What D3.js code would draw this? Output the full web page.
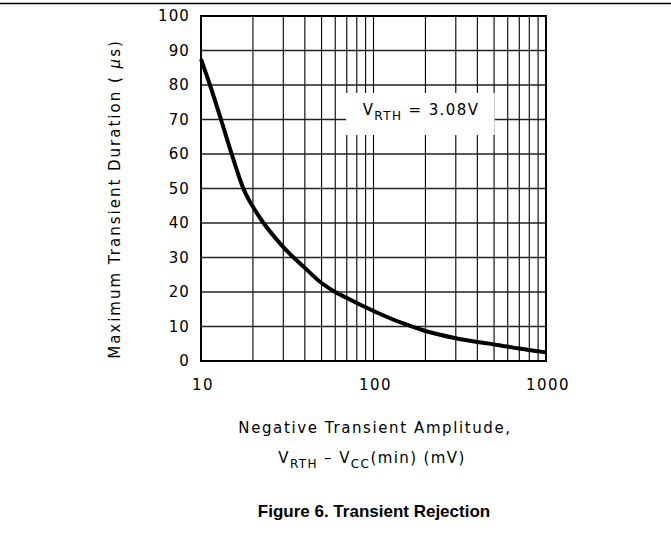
<!DOCTYPE html>
<html><head><meta charset="utf-8">
<script src="https://cdn.jsdelivr.net/npm/d3@7"></script>
<style>
html,body{margin:0;padding:0;background:#fff;}
text{font-family:"DejaVu Sans",sans-serif;fill:#000;}
</style></head>
<body><svg id="c" width="671" height="548"></svg>
<script>
// ---- data ----
const amplitudes = [10, 11.27, 13.06, 15.06, 17.6, 21, 30, 40, 50, 60, 70, 80, 100, 150, 200, 300, 400, 500, 700, 1000];
const durations  = [87.5, 80, 70, 60, 50, 43, 33, 27, 22.6, 20, 18.3, 16.8, 14.5, 10.8, 8.7, 6.6, 5.5, 4.8, 3.6, 2.5];
const xTickLabels = [10, 100, 1000];
const yTickLabels = [0, 10, 20, 30, 40, 50, 60, 70, 80, 90, 100];
const xGrid = [10,20,30,40,50,60,70,80,90,100,200,300,400,500,600,700,800,900,1000];
const annotationBox = {x0: 70, x1: 500, y0: 65.5, y1: 77.7};

const svg = d3.select("#c");
const L = 201, R = 546, T = 16, B = 361;
const x = d3.scaleLog().domain([10, 1000]).range([L, R]);
const y = d3.scaleLinear().domain([0, 100]).range([B, T]);

// page separator
svg.append("line").attr("x1",0).attr("x2",671).attr("y1",3.5).attr("y2",3.5)
  .attr("stroke","#000").attr("stroke-width",1.5);

// grid
const g = svg.append("g");
g.selectAll("line.v").data(xGrid).join("line")
  .attr("x1",d=>x(d)).attr("x2",d=>x(d)).attr("y1",T).attr("y2",B)
  .attr("stroke","#000").attr("stroke-width",1.1);
g.selectAll("line.h").data(yTickLabels).join("line")
  .attr("x1",L).attr("x2",R).attr("y1",d=>y(d)).attr("y2",d=>y(d))
  .attr("stroke","#222").attr("stroke-width",1.3);

// annotation white box
svg.append("rect")
  .attr("x", x(annotationBox.x0)-0.8).attr("width", x(annotationBox.x1)-x(annotationBox.x0)+1.4)
  .attr("y", y(annotationBox.y1)).attr("height", y(annotationBox.y0)-y(annotationBox.y1))
  .attr("fill","#fff");

// frame
svg.append("rect").attr("x",L).attr("y",T).attr("width",R-L).attr("height",B-T)
  .attr("fill","none").attr("stroke","#000").attr("stroke-width",2);

// curve
const line = d3.line().x((d,i)=>x(amplitudes[i])).y(d=>y(d)).curve(d3.curveMonotoneX);
svg.append("path").attr("d", line(durations)).attr("fill","none")
  .attr("stroke","#000").attr("stroke-width",4).attr("stroke-linecap","butt");

// y tick labels
svg.append("g").selectAll("text").data(yTickLabels).join("text")
  .attr("x",190).attr("y",d=>y(d)).attr("dy","0.36em").attr("text-anchor","end")
  .attr("font-size",15).attr("letter-spacing",1.1).text(d=>d);

// x tick labels
svg.append("g").selectAll("text").data(xTickLabels).join("text")
  .attr("x",d=>x(d)+2).attr("y",390).attr("text-anchor","middle")
  .attr("font-size",15).attr("letter-spacing",1.5).text(d=>d);

// y title
const yt = svg.append("text").attr("transform","translate(120,199) rotate(-90)")
  .attr("text-anchor","middle").attr("font-size",15).attr("letter-spacing",2.0);
yt.append("tspan").text("Maximum Transient Duration ( ");
yt.append("tspan").attr("font-style","italic").text("μ");
yt.append("tspan").text("s)");

// x title
svg.append("text").attr("x",375).attr("y",433).attr("text-anchor","middle")
  .attr("font-size",15).attr("letter-spacing",1.6).text("Negative Transient Amplitude,");
const xt2 = svg.append("text").attr("x",372).attr("y",463).attr("text-anchor","middle")
  .attr("font-size",15).attr("letter-spacing",1.4);
xt2.append("tspan").text("V");
xt2.append("tspan").attr("font-size",12).attr("dy",5).text("RTH");
xt2.append("tspan").attr("dy",-5).text(" – V");
xt2.append("tspan").attr("font-size",12).attr("dy",5).text("CC");
xt2.append("tspan").attr("dy",-5).text("(min) (mV)");

// annotation
const an = svg.append("text").attr("x",421).attr("y",115).attr("text-anchor","middle")
  .attr("font-size",15).attr("letter-spacing",1.4);
an.append("tspan").text("V");
an.append("tspan").attr("font-size",12).attr("dy",5).text("RTH");
an.append("tspan").attr("dy",-5).text(" = 3.08V");

// figure caption
svg.append("text").attr("x",374).attr("y",517).attr("text-anchor","middle")
  .attr("font-weight","bold").attr("font-size",17)
  .style("font-family","'Liberation Sans', Arial, sans-serif")
  .text("Figure 6. Transient Rejection");
</script></body></html>
